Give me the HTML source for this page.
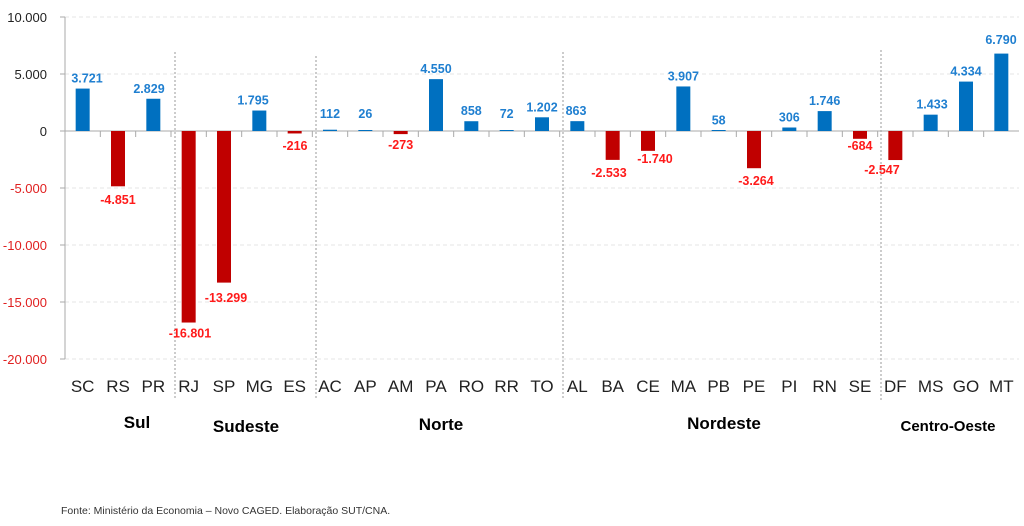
<!DOCTYPE html>
<html><head><meta charset="utf-8"><style>
html,body{margin:0;padding:0;background:#fff;}
svg{display:block;font-family:"Liberation Sans",Arial,sans-serif;}
</style></head><body>
<svg width="1024" height="526" viewBox="0 0 1024 526" xmlns="http://www.w3.org/2000/svg">
<g stroke="#e6e6e6" stroke-dasharray="4,3" stroke-width="1">
<line x1="65" x2="1019" y1="17" y2="17"/><line x1="65" x2="1019" y1="74" y2="74"/>
<line x1="65" x2="1019" y1="188" y2="188"/><line x1="65" x2="1019" y1="245" y2="245"/>
<line x1="65" x2="1019" y1="302" y2="302"/><line x1="65" x2="1019" y1="359" y2="359"/>
</g>
<g stroke="#999" stroke-dasharray="2,2" stroke-width="1">
<line x1="175" x2="175" y1="52" y2="400"/><line x1="316" x2="316" y1="56" y2="400"/>
<line x1="563" x2="563" y1="52" y2="400"/><line x1="881" x2="881" y1="50" y2="400"/>
</g>
<g stroke="#aaa" stroke-width="1">
<line x1="65" x2="65" y1="17" y2="359"/><line x1="60" x2="1019" y1="131" y2="131"/>
<line x1="60" x2="65" y1="17" y2="17"/><line x1="60" x2="65" y1="74" y2="74"/>
<line x1="60" x2="65" y1="188" y2="188"/><line x1="60" x2="65" y1="245" y2="245"/>
<line x1="60" x2="65" y1="302" y2="302"/><line x1="60" x2="65" y1="359" y2="359"/>
<line x1="100.33" x2="100.33" y1="131" y2="137"/><line x1="135.67" x2="135.67" y1="131" y2="137"/>
<line x1="171" x2="171" y1="131" y2="137"/><line x1="206.33" x2="206.33" y1="131" y2="137"/>
<line x1="241.67" x2="241.67" y1="131" y2="137"/><line x1="277" x2="277" y1="131" y2="137"/>
<line x1="312.33" x2="312.33" y1="131" y2="137"/><line x1="347.67" x2="347.67" y1="131" y2="137"/>
<line x1="383" x2="383" y1="131" y2="137"/><line x1="418.33" x2="418.33" y1="131" y2="137"/>
<line x1="453.67" x2="453.67" y1="131" y2="137"/><line x1="489" x2="489" y1="131" y2="137"/>
<line x1="524.33" x2="524.33" y1="131" y2="137"/><line x1="559.67" x2="559.67" y1="131" y2="137"/>
<line x1="595" x2="595" y1="131" y2="137"/><line x1="630.33" x2="630.33" y1="131" y2="137"/>
<line x1="665.67" x2="665.67" y1="131" y2="137"/><line x1="701" x2="701" y1="131" y2="137"/>
<line x1="736.33" x2="736.33" y1="131" y2="137"/><line x1="771.67" x2="771.67" y1="131" y2="137"/>
<line x1="807" x2="807" y1="131" y2="137"/><line x1="842.33" x2="842.33" y1="131" y2="137"/>
<line x1="877.67" x2="877.67" y1="131" y2="137"/><line x1="913" x2="913" y1="131" y2="137"/>
<line x1="948.33" x2="948.33" y1="131" y2="137"/><line x1="983.67" x2="983.67" y1="131" y2="137"/>
</g>
<g font-size="13" text-anchor="end">
<text x="47" y="22" fill="#222">10.000</text><text x="47" y="79" fill="#222">5.000</text>
<text x="47" y="136" fill="#222">0</text><text x="47" y="193" fill="#e02020">-5.000</text>
<text x="47" y="250" fill="#e02020">-10.000</text><text x="47" y="307" fill="#e02020">-15.000</text>
<text x="47" y="364" fill="#e02020">-20.000</text>
</g>
<g fill="#0070c0">
<rect x="75.67" y="88.58" width="14" height="42.42"/>
<rect x="146.33" y="98.75" width="14" height="32.25"/>
<rect x="252.33" y="110.54" width="14" height="20.46"/>
<rect x="323" y="129.72" width="14" height="1.28"/>
<rect x="358.33" y="130" width="14" height="1"/>
<rect x="429" y="79.13" width="14" height="51.87"/>
<rect x="464.33" y="121.22" width="14" height="9.78"/>
<rect x="499.67" y="130" width="14" height="1"/>
<rect x="535" y="117.3" width="14" height="13.7"/>
<rect x="570.33" y="121.16" width="14" height="9.84"/>
<rect x="676.33" y="86.46" width="14" height="44.54"/>
<rect x="711.67" y="130" width="14" height="1"/>
<rect x="782.33" y="127.51" width="14" height="3.49"/>
<rect x="817.67" y="111.1" width="14" height="19.9"/>
<rect x="923.67" y="114.66" width="14" height="16.34"/>
<rect x="959" y="81.59" width="14" height="49.41"/>
<rect x="994.33" y="53.59" width="14" height="77.41"/>
</g>
<g fill="#c00000">
<rect x="111" y="131" width="14" height="55.3"/>
<rect x="181.67" y="131" width="14" height="191.53"/>
<rect x="217" y="131" width="14" height="151.61"/>
<rect x="287.67" y="131" width="14" height="2.46"/>
<rect x="393.67" y="131" width="14" height="3.11"/>
<rect x="605.67" y="131" width="14" height="28.88"/>
<rect x="641" y="131" width="14" height="19.84"/>
<rect x="747" y="131" width="14" height="37.21"/>
<rect x="853" y="131" width="14" height="7.8"/>
<rect x="888.33" y="131" width="14" height="29.04"/>
</g>
<g font-size="12.5" font-weight="bold" fill="#1f7fd0" text-anchor="middle">
<text x="87" y="82.6">3.721</text>
<text x="149" y="92.75">2.829</text>
<text x="253" y="104.5">1.795</text>
<text x="330" y="118">112</text>
<text x="365.33" y="118">26</text>
<text x="436" y="73.1">4.550</text>
<text x="471.33" y="115.2">858</text>
<text x="506.67" y="118">72</text>
<text x="542" y="111.3">1.202</text>
<text x="576" y="115.2">863</text>
<text x="683.33" y="80.5">3.907</text>
<text x="718.67" y="124.3">58</text>
<text x="789.33" y="121.5">306</text>
<text x="824.67" y="105.1">1.746</text>
<text x="932" y="108.7">1.433</text>
<text x="966" y="75.6">4.334</text>
<text x="1001" y="44">6.790</text>
</g>
<g font-size="12.5" font-weight="bold" fill="#ff1a1a" text-anchor="middle">
<text x="118" y="204">-4.851</text>
<text x="190" y="337.5">-16.801</text>
<text x="226" y="302">-13.299</text>
<text x="295" y="150">-216</text>
<text x="400.67" y="149">-273</text>
<text x="609" y="177">-2.533</text>
<text x="655" y="163">-1.740</text>
<text x="756" y="185">-3.264</text>
<text x="860" y="150">-684</text>
<text x="882" y="174">-2.547</text>
</g>
<g font-size="17" fill="#222" text-anchor="middle">
<text x="82.67" y="392">SC</text><text x="118" y="392">RS</text><text x="153.33" y="392">PR</text>
<text x="188.67" y="392">RJ</text><text x="224" y="392">SP</text><text x="259.33" y="392">MG</text>
<text x="294.67" y="392">ES</text><text x="330" y="392">AC</text><text x="365.33" y="392">AP</text>
<text x="400.67" y="392">AM</text><text x="436" y="392">PA</text><text x="471.33" y="392">RO</text>
<text x="506.67" y="392">RR</text><text x="542" y="392">TO</text><text x="577.33" y="392">AL</text>
<text x="612.67" y="392">BA</text><text x="648" y="392">CE</text><text x="683.33" y="392">MA</text>
<text x="718.67" y="392">PB</text><text x="754" y="392">PE</text><text x="789.33" y="392">PI</text>
<text x="824.67" y="392">RN</text><text x="860" y="392">SE</text><text x="895.33" y="392">DF</text>
<text x="930.67" y="392">MS</text><text x="966" y="392">GO</text><text x="1001.33" y="392">MT</text>
</g>
<text x="137" y="428" font-size="17" font-weight="bold" text-anchor="middle">Sul</text>
<text x="246" y="432" font-size="17" font-weight="bold" text-anchor="middle">Sudeste</text>
<text x="441" y="430" font-size="17" font-weight="bold" text-anchor="middle">Norte</text>
<text x="724" y="429" font-size="17" font-weight="bold" text-anchor="middle">Nordeste</text>
<text x="948" y="431" font-size="15" font-weight="bold" text-anchor="middle">Centro-Oeste</text>
<text x="61" y="514" font-size="10.5" fill="#333">Fonte: Ministério da Economia – Novo CAGED. Elaboração SUT/CNA.</text>
</svg>
</body></html>
